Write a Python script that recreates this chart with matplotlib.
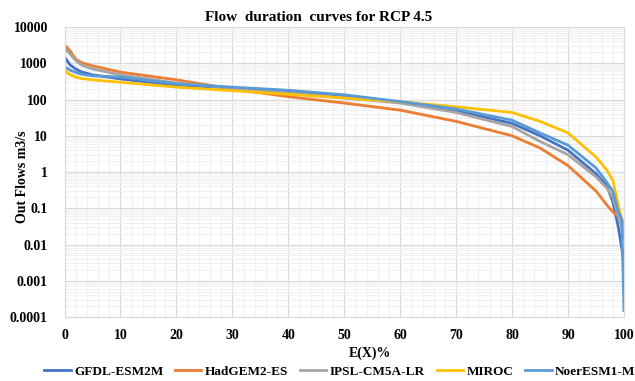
import matplotlib.pyplot as plt
from matplotlib.ticker import LogLocator, FixedLocator, NullFormatter

# exceedance probability (%) and flows
exceed = [0, 1, 2, 3, 5, 10, 20, 30, 40, 50, 60, 70, 80, 85, 90, 95, 97, 98, 99, 99.6, 100]

gfdl = [1500, 900, 700, 580, 480, 370, 250, 210, 175, 128, 85, 49, 22, 10, 4, 0.9, 0.4, 0.15, 0.03, 0.008, 0.003]
hadgem = [3200, 2200, 1300, 1050, 850, 570, 350, 195, 120, 80, 51, 25, 10, 4.6, 1.5, 0.3, 0.12, 0.08, 0.06, 0.05, 0.03]
ipsl = [2600, 1800, 1200, 900, 700, 480, 285, 210, 150, 112, 80, 44, 18, 7, 3, 0.74, 0.35, 0.2, 0.06, 0.03, 0.015]
miroc = [650, 480, 420, 380, 350, 300, 220, 175, 140, 110, 87, 63, 44, 25, 12, 2.6, 1.1, 0.6, 0.12, 0.05, 0.02]
noresm = [800, 650, 560, 500, 450, 420, 270, 220, 180, 135, 88, 55, 27, 12, 5.5, 1.3, 0.5, 0.3, 0.08, 0.05, 0.00015]

names = ['GFDL-ESM2M', 'HadGEM2-ES', 'IPSL-CM5A-LR', 'MIROC', 'NoerESM1-M']
colors = ['#4472C4', '#ED7D31', '#A5A5A5', '#FFC000', '#5B9BD5']
series = [gfdl, hadgem, ipsl, miroc, noresm]

plt.rcParams['font.family'] = 'Liberation Serif'
plt.rcParams['font.weight'] = 'bold'

fig = plt.figure(figsize=(6.35, 3.81), dpi=100)
ax = fig.add_axes([0.1016, 0.168, 0.881, 0.761])

for vals, name, c in zip(series, names, colors):
    ax.plot(exceed, vals, color=c, lw=2, label=name)

ax.set_yscale('log')
ax.set_xlim(0, 100)
ax.set_ylim(0.0001, 10000)
ax.set_xticks(range(0, 101, 10))
ax.xaxis.set_minor_locator(FixedLocator(range(0, 101, 2)))
ax.yaxis.set_major_locator(LogLocator(base=10, numticks=20))
ax.yaxis.set_minor_locator(LogLocator(base=10, subs=range(2, 10), numticks=20))
ax.yaxis.set_minor_formatter(NullFormatter())
ax.set_yticks([1e-4, 1e-3, 1e-2, 1e-1, 1, 10, 100, 1000, 10000])
ax.set_yticklabels(['0.0001', '0.001', '0.01', '0.1', '1', '10', '100', '1000', '10000'])

ax.grid(True, which='major', color='#D9D9D9', lw=0.9)
ax.grid(True, which='minor', color='#F0F0F0', lw=0.8)
ax.set_axisbelow(True)
ax.tick_params(which='both', length=0)
ax.tick_params(axis='y', pad=12, labelsize=10)
ax.tick_params(axis='x', pad=9, labelsize=10)
for s in ax.spines.values():
    s.set_color('#D9D9D9')

fig.text(0.502, 0.955, 'Flow  duration  curves for RCP 4.5', ha='center', va='center',
         fontsize=11, fontweight='bold')
fig.text(0.035, 0.535, 'Out Flows m3/s', ha='center', va='center', rotation=90,
         fontsize=10, fontweight='bold')
fig.text(0.583, 0.073, 'E(X)%', ha='center', va='center', fontsize=10, fontweight='bold')

fig.legend(loc='center', bbox_to_anchor=(0.535, 0.024), ncol=5, frameon=False,
           fontsize=9.5, handlelength=2.0, columnspacing=0.9, handletextpad=0.25,
           borderaxespad=0, borderpad=0)

fig.savefig('out.png', dpi=100)
